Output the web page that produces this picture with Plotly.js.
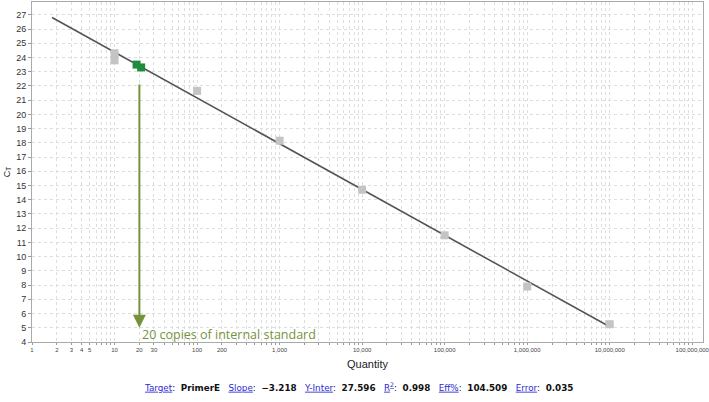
<!DOCTYPE html>
<html>
<head>
<meta charset="utf-8">
<script src="https://cdn.plot.ly/plotly-3.0.1.min.js"></script>
<style>
  html, body { margin: 0; padding: 0; background: #fff; }
  #chart { width: 709px; height: 402px; }
</style>
</head>
<body>
<div id="chart"></div>
<script>
// standards (grey) and unknowns (green)
const stdQty = [10, 10, 100, 1000, 10000, 100000, 1000000, 10000000];
const stdCt = [24.3, 23.8, 21.65, 18.15, 14.7, 11.5, 7.9, 5.25];
const unkQty = [18.5, 21];
const unkCt = [23.5, 23.3];

// regression line
const slope = -3.218;
const yInter = 27.596;
const lineQty = [1.75, 10000000];
const lineCt = lineQty.map(q => yInter + slope * Math.log10(q));

// x ticks: every minor position gets a grid line, only some get a label
const decades = [1, 10, 100, 1000, 10000, 100000, 1000000, 10000000];
const labelled = {1: "1", 2: "2", 3: "3", 4: "4", 5: "5", 10: "10", 20: "20", 30: "30",
  100: "100", 200: "200", 1000: "1,000", 10000: "10,000", 100000: "100,000",
  1000000: "1,000,000", 10000000: "10,000,000", 100000000: "100,000,000"};
const xTickVals = [];
const xTickText = [];
decades.forEach(d => {
  for (let m = 1; m <= 9; m++) {
    const v = d * m;
    xTickVals.push(v);
    xTickText.push(labelled[v] || "");
  }
});
xTickVals.push(100000000);
xTickText.push(labelled[100000000]);

const yTickVals = [];
for (let v = 4; v <= 27; v++) yTickVals.push(v);

const statLabels = ["Target", "Slope", "Y-Inter", "R<sup>2</sup>", "Eff%", "Error"];
const statValues = ["PrimerE", "\u22123.218", "27.596", "0.998", "104.509", "0.035"];

const statText = statLabels.map((l, i) =>
  '<span style="color:#2b2bd0;text-decoration:underline">' + l + '</span>:  <b>' + statValues[i] + '</b>'
).join('   ');

const traces = [
  {
    x: lineQty, y: lineCt, type: 'scatter', mode: 'lines',
    line: { color: '#555', width: 1.6 }, hoverinfo: 'skip'
  },
  {
    x: stdQty, y: stdCt, type: 'scatter', mode: 'markers',
    marker: { symbol: 'square', size: 8, color: '#c4c4c4' }
  },
  {
    x: unkQty, y: unkCt, type: 'scatter', mode: 'markers',
    marker: { symbol: 'square', size: 8, color: '#1e8c3e' }
  }
];

const olive = '#76933c';

const layout = {
  width: 709, height: 402,
  margin: { l: 32, r: 6, t: 2, b: 60 },
  paper_bgcolor: '#fff', plot_bgcolor: '#fff',
  showlegend: false,
  font: { family: 'Liberation Sans, Arial, sans-serif', color: '#333' },
  xaxis: {
    type: 'log', range: [0, 8.13],
    tickvals: xTickVals, ticktext: xTickText,
    tickfont: { size: 6, color: '#444' },
    tickangle: 0,
    ticklabeloverflow: 'allow',
    ticks: 'outside', ticklen: 2, tickcolor: '#999',
    showgrid: true, gridcolor: '#dedede', griddash: 'dot', gridwidth: 1,
    showline: true, linecolor: '#aaa', mirror: true, zeroline: false,
    title: { text: 'Quantity', font: { size: 11, color: '#222' }, standoff: 8 }
  },
  yaxis: {
    range: [4, 27.9],
    tickvals: yTickVals,
    tickfont: { size: 9, color: '#333' },
    ticks: 'outside', ticklen: 3, tickcolor: '#999',
    showgrid: true, gridcolor: '#dedede', griddash: 'dot', gridwidth: 1,
    showline: true, linecolor: '#aaa', mirror: true, zeroline: false,
    title: { text: 'C<sub>T</sub>', font: { size: 9, color: '#222' }, standoff: 4 }
  },
  annotations: [
    {
      x: Math.log10(20), y: 5.0, xref: 'x', yref: 'y',
      ax: Math.log10(20), ay: 22.2, axref: 'x', ayref: 'y',
      showarrow: true, arrowhead: 2, arrowsize: 1.3, arrowwidth: 2,
      arrowcolor: olive, text: ''
    },
    {
      x: Math.log10(20), y: 4.56, xref: 'x', yref: 'y',
      xanchor: 'left', yanchor: 'middle', xshift: 1,
      showarrow: false, text: '20 copies of internal standard',
      font: { family: 'Open Sans, sans-serif', size: 12.5, color: olive }
    },
    {
      x: 0.486, y: -0.132, xref: 'paper', yref: 'paper',
      xanchor: 'center', yanchor: 'middle', showarrow: false,
      text: statText,
      font: { family: 'DejaVu Sans, Verdana, sans-serif', size: 8.8, color: '#111' }
    }
  ]
};

Plotly.newPlot('chart', traces, layout, { displayModeBar: false, staticPlot: true });
</script>
</body>
</html>
